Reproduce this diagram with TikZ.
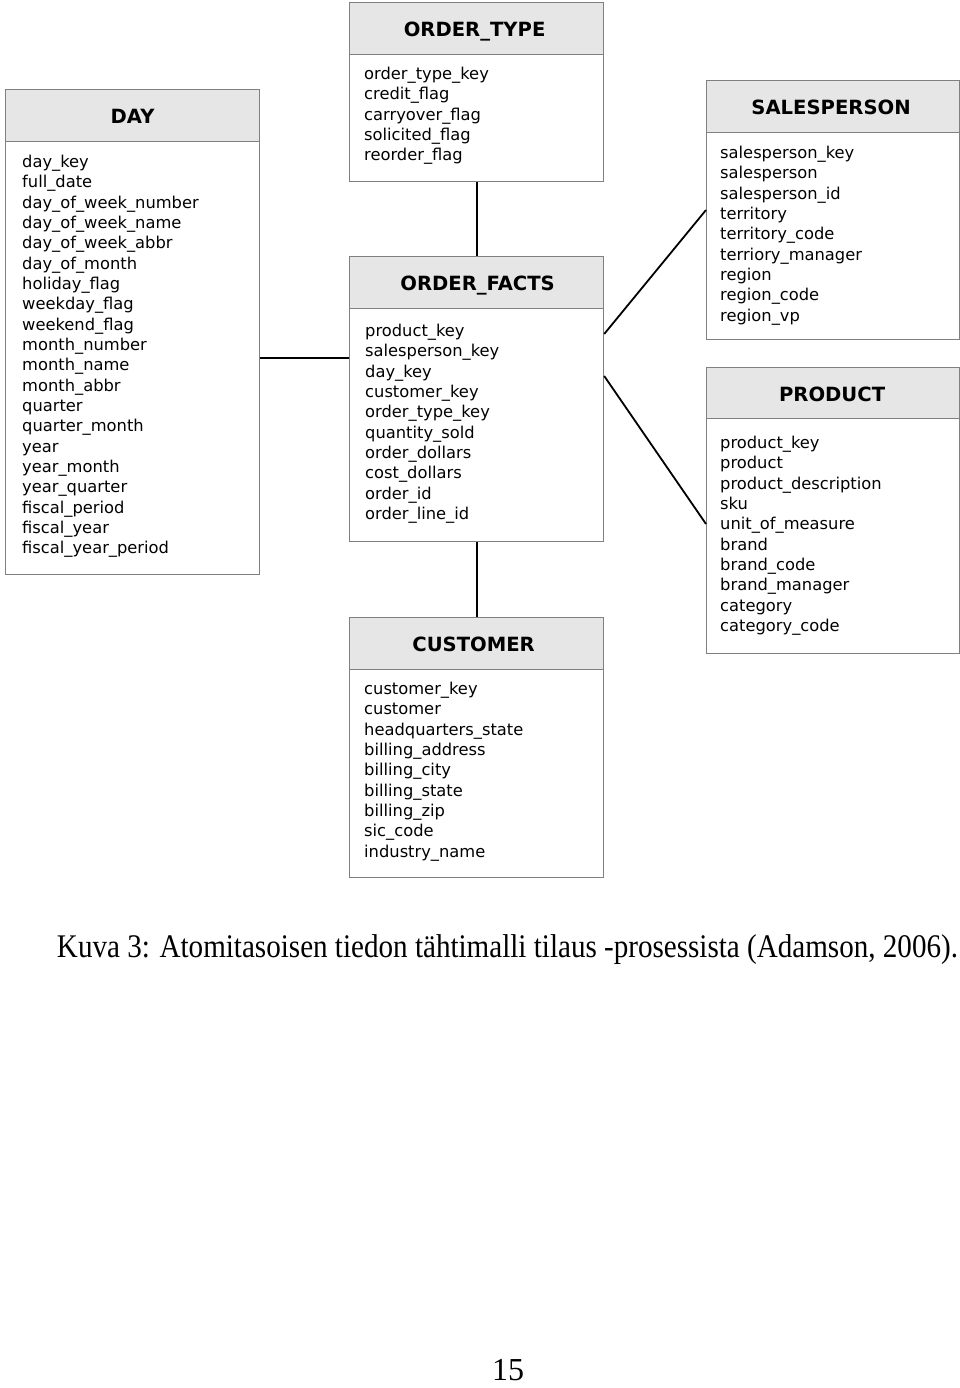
\documentclass[tikz,border=0pt]{standalone}
\usepackage{fontspec}
\setmainfont{Liberation Serif}
\newfontfamily\dv{DejaVu Sans}
\usetikzlibrary{calc}
\definecolor{bordergray}{HTML}{808080}
\definecolor{hdrgray}{HTML}{E6E6E6}
\begin{document}
\begin{tikzpicture}[x=1pt,y=-1pt,
  tbl/.style={draw=bordergray, line width=1.2pt, rectangle, inner sep=0pt, anchor=north west, fill=white},
  hdr/.style={tbl, fill=hdrgray},
  htext/.style={font=\dv\bfseries\fontsize{19.6}{20}\selectfont, anchor=base, inner sep=0pt},
  ftext/.style={font=\dv\fontsize{16.3}{18}\selectfont, anchor=base west, inner sep=0pt},
  link/.style={line width=1.8pt, black}]
\useasboundingbox (0,0) rectangle (960,1388);

% DAY
\node[hdr, minimum width=254pt, minimum height=52pt] (dayh) at (5,89) {};
\node[tbl, minimum width=254pt, minimum height=433pt] (dayb) at (5,141) {};
\node[htext] (dayt) at ($(dayh.center)+(0,8)$) {DAY};
\foreach \t [count=\i from 0] in {day\_key, full\_date, day\_of\_week\_number, day\_of\_week\_name, day\_of\_week\_abbr, day\_of\_month, holiday\_flag, weekday\_flag, weekend\_flag, month\_number, month\_name, month\_abbr, quarter, quarter\_month, year, year\_month, year\_quarter, fiscal\_period, fiscal\_year, fiscal\_year\_period}
  \node[ftext] (dayr\i) at (22, 167.5+20.33*\i) {\t};

% ORDER_TYPE
\node[hdr, minimum width=254pt, minimum height=52pt] (oth) at (349,2) {};
\node[tbl, minimum width=254pt, minimum height=127pt] (otb) at (349,54) {};
\node[htext] (ott) at ($(oth.center)+(-2,8)$) {ORDER\_TYPE};
\foreach \t [count=\i from 0] in {order\_type\_key, credit\_flag, carryover\_flag, solicited\_flag, reorder\_flag}
  \node[ftext] (otr\i) at (364, 79.5+20.33*\i) {\t};

% ORDER_FACTS
\node[hdr, minimum width=254pt, minimum height=52pt] (ofh) at (349,256) {};
\node[tbl, minimum width=254pt, minimum height=233pt] (ofb) at (349,308) {};
\node[htext] (oft) at ($(ofh.center)+(1,8)$) {ORDER\_FACTS};
\foreach \t [count=\i from 0] in {product\_key, salesperson\_key, day\_key, customer\_key, order\_type\_key, quantity\_sold, order\_dollars, cost\_dollars, order\_id, order\_line\_id}
  \node[ftext] (ofr\i) at (365, 336.5+20.33*\i) {\t};

% CUSTOMER
\node[hdr, minimum width=254pt, minimum height=52pt] (cuh) at (349,617) {};
\node[tbl, minimum width=254pt, minimum height=208pt] (cub) at (349,669) {};
\node[htext] (cut) at ($(cuh.center)+(-3,8)$) {CUSTOMER};
\foreach \t [count=\i from 0] in {customer\_key, customer, headquarters\_state, billing\_address, billing\_city, billing\_state, billing\_zip, sic\_code, industry\_name}
  \node[ftext] (cur\i) at (364, 694.5+20.33*\i) {\t};

% SALESPERSON
\node[hdr, minimum width=253pt, minimum height=52pt] (sph) at (706,80) {};
\node[tbl, minimum width=253pt, minimum height=207pt] (spb) at (706,132) {};
\node[htext] (spt) at ($(sph.center)+(-2,8)$) {SALESPERSON};
\foreach \t [count=\i from 0] in {salesperson\_key, salesperson, salesperson\_id, territory, territory\_code, terriory\_manager, region, region\_code, region\_vp}
  \node[ftext] (spr\i) at (720, 158.5+20.33*\i) {\t};

% PRODUCT
\node[hdr, minimum width=253pt, minimum height=51pt] (prh) at (706,367) {};
\node[tbl, minimum width=253pt, minimum height=235pt] (prb) at (706,418) {};
\node[htext] (prt) at ($(prh.center)+(-1,8)$) {PRODUCT};
\foreach \t [count=\i from 0] in {product\_key, product, product\_description, sku, unit\_of\_measure, brand, brand\_code, brand\_manager, category, category\_code}
  \node[ftext] (prr\i) at (720, 448.5+20.33*\i) {\t};

% connectors
\draw[link] (dayb.east) -- (dayb.east -| ofb.west);
\draw[link] (otb.south) -- (ofh.north);
\draw[link] (ofb.south) -- (cuh.north);
\draw[link] ($(ofb.north east)+(0,26)$) -- ($(spb.north west)+(0,78)$);
\draw[link] ($(ofb.north east)+(0,68)$) -- ($(prb.north west)+(0,106)$);

% caption and page number
\node[anchor=base, inner sep=0pt] (cap) at (507.5,957) {\resizebox{901pt}{\height}{\fontsize{33}{36}\selectfont Kuva 3: Atomitasoisen tiedon tähtimalli tilaus -prosessista (Adamson, 2006).}};
\node[anchor=base, inner sep=0pt] (pg) at (508,1380) {\fontsize{32}{36}\selectfont 15};
\end{tikzpicture}
\end{document}
